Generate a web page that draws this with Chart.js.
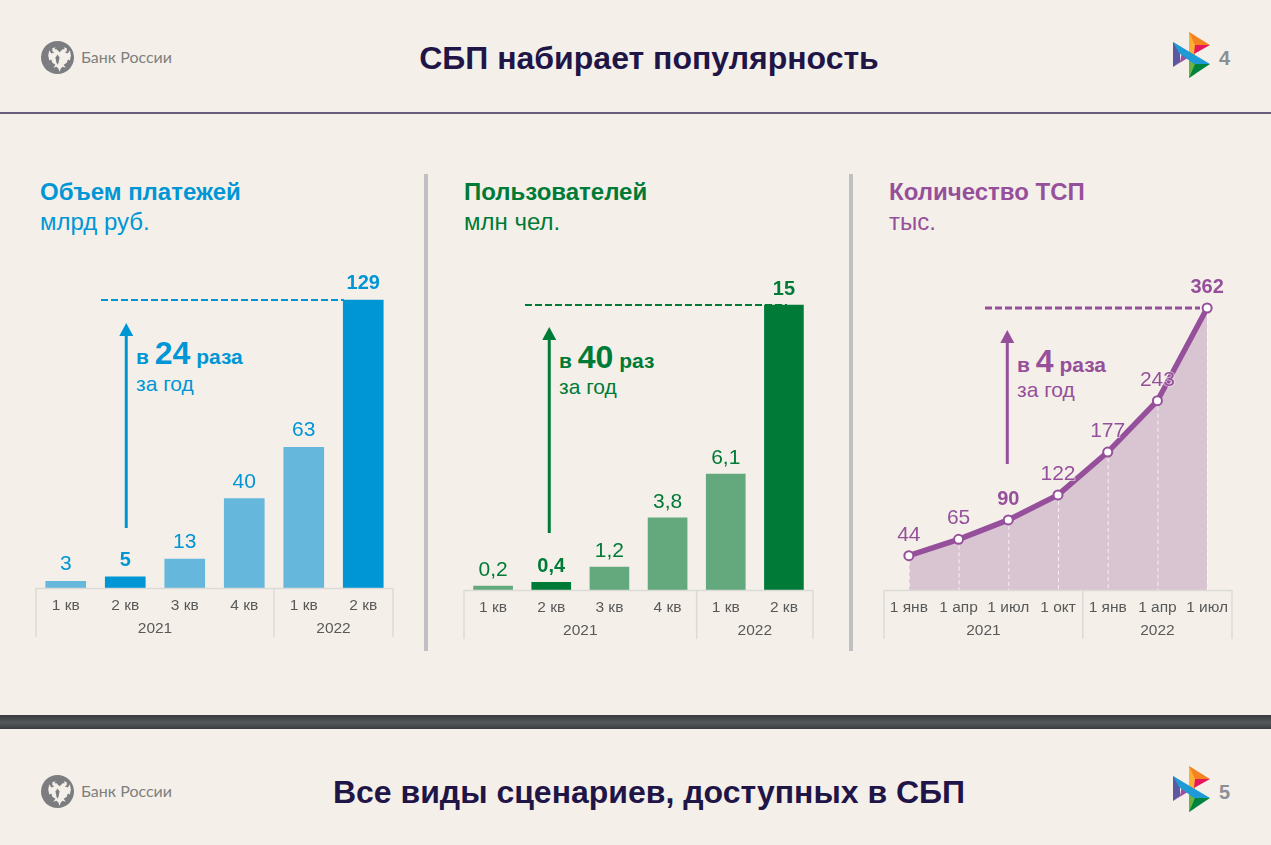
<!DOCTYPE html>
<html lang="ru">
<head>
<meta charset="utf-8">
<title>СБП набирает популярность</title>
<script src="https://cdn.jsdelivr.net/npm/chart.js@4"></script>
<style>
  html, body { margin: 0; padding: 0; background: #f4f0e9; }
  body { position: relative; width: 1271px; height: 845px; overflow: hidden; font-family: "Liberation Sans", Arial, sans-serif; }
  canvas { position: absolute; }
  .txt { position: absolute; white-space: nowrap; line-height: 1; }
  .title { left: 0; text-align: center; font-weight: bold; color: #1f1547; font-size: 32px; }
  .head { font-size: 24px; }
  .b { font-weight: bold; }
  .call { font-size: 21px; }
  .call big { font-size: 32px; font-weight: bold; }
  .bank { font-family: Lato, sans-serif; font-size: 16px; color: #7f7f7f; }
  .page { font-weight: bold; font-size: 20px; color: #8a8f94; }
  .rule { position: absolute; }
  svg { position: absolute; }
</style>
</head>
<body>

<!-- slide furniture -->
<div class="rule" style="left:0;top:112px;width:1271px;height:2px;background:#6a5d7b"></div>
<div class="rule" style="left:424px;top:174px;width:4px;height:477px;background:#bfbfc4"></div>
<div class="rule" style="left:849px;top:174px;width:4px;height:477px;background:#bfbfc4"></div>
<div class="rule" style="left:0;top:715px;width:1271px;height:14px;background:linear-gradient(#37393c,#55585b 55%,#3a3c3f)"></div>

<div class="txt title" style="top:42px;width:1298px">СБП набирает популярность</div>
<div class="txt title" style="top:776px;width:1298px">Все виды сценариев, доступных в СБП</div>

<div class="txt bank" style="left:81px;top:49px">Банк России</div>
<div class="txt bank" style="left:81px;top:783px">Банк России</div>
<div class="txt page" style="left:1219px;top:48px">4</div>
<div class="txt page" style="left:1219px;top:782px">5</div>

<div class="txt head b" style="left:40px;top:180px;color:#0096d6">Объем платежей</div>
<div class="txt head" style="left:40px;top:210px;color:#0096d6">млрд руб.</div>
<div class="txt head b" style="left:464px;top:180px;color:#007a37">Пользователей</div>
<div class="txt head" style="left:464px;top:210px;color:#007a37">млн чел.</div>
<div class="txt head b" style="left:889px;top:180px;color:#964f9b">Количество ТСП</div>
<div class="txt head" style="left:889px;top:210px;color:#964f9b">тыс.</div>

<div class="txt call b" style="left:136px;top:337px;color:#0096d6">в <big>24</big> раза</div>
<div class="txt call" style="left:136px;top:373px;color:#0096d6">за год</div>
<div class="txt call b" style="left:559px;top:341px;color:#007a37">в <big>40</big> раз</div>
<div class="txt call" style="left:559px;top:376px;color:#007a37">за год</div>
<div class="txt call b" style="left:1017px;top:345px;color:#964f9b">в <big>4</big> раза</div>
<div class="txt call" style="left:1017px;top:379px;color:#964f9b">за год</div>

<canvas id="payments-chart" width="361" height="380" style="left:34px;top:260px"></canvas>
<canvas id="users-chart" width="353" height="382" style="left:462px;top:260px"></canvas>
<canvas id="merchants-chart" width="352" height="382" style="left:882px;top:260px"></canvas>

<script>
// === Data ===
const quarters = ["1 кв", "2 кв", "3 кв", "4 кв", "1 кв", "2 кв"];
const dates = ["1 янв", "1 апр", "1 июл", "1 окт", "1 янв", "1 апр", "1 июл"];
const years = ["2021", "2022"];

const payments = [3, 5, 13, 40, 63, 129];
const paymentLabels = ["3", "5", "13", "40", "63", "129"];

const users = [0.2, 0.4, 1.2, 3.8, 6.1, 15];
const userLabels = ["0,2", "0,4", "1,2", "3,8", "6,1", "15"];

const merchants = [44, 65, 90, 122, 177, 243, 362];
const merchantLabels = ["44", "65", "90", "122", "177", "243", "362"];

const FRAME = "#dcdad6";
const TICK = "#595959";
const FONT = '"Liberation Sans", Arial, sans-serif';

// table-like axis frame with the year row under the ticks
function drawFrame(chart, ctx) {
  const { left, right, bottom } = chart.chartArea;
  const x = chart.scales.x;
  const split = (x.getPixelForValue(3) + x.getPixelForValue(4)) / 2;
  ctx.strokeStyle = FRAME;
  ctx.lineWidth = 1.5;
  ctx.beginPath();
  ctx.moveTo(left, bottom + 0.5);
  ctx.lineTo(right, bottom + 0.5);
  [left, split, right].forEach(px => {
    ctx.moveTo(px, bottom);
    ctx.lineTo(px, bottom + 49);
  });
  ctx.stroke();

  ctx.fillStyle = TICK;
  ctx.font = "15.5px " + FONT;
  ctx.textAlign = "center";
  ctx.textBaseline = "alphabetic";
  ctx.fillText(years[0], (left + split) / 2, bottom + 45);
  ctx.fillText(years[1], (split + right) / 2, bottom + 45);
}

function drawArrow(ctx, px, top, bottom, color) {
  ctx.strokeStyle = color;
  ctx.fillStyle = color;
  ctx.lineWidth = 3;
  ctx.setLineDash([]);
  ctx.beginPath();
  ctx.moveTo(px, bottom);
  ctx.lineTo(px, top + 10);
  ctx.stroke();
  ctx.beginPath();
  ctx.moveTo(px, top);
  ctx.lineTo(px + 7, top + 13);
  ctx.lineTo(px - 7, top + 13);
  ctx.closePath();
  ctx.fill();
}

function drawDash(ctx, from, to, y, color, width) {
  ctx.strokeStyle = color;
  ctx.lineWidth = width;
  ctx.setLineDash([7, 3]);
  ctx.beginPath();
  ctx.moveTo(from, y);
  ctx.lineTo(to, y);
  ctx.stroke();
  ctx.setLineDash([]);
}

function overlay(cfg) {
  return {
    id: "overlay",
    afterDraw(chart) {
      const ctx = chart.ctx;
      const meta = chart.getDatasetMeta(0).data;
      const canvasLeft = chart.canvas.offsetLeft;
      const canvasTop = chart.canvas.offsetTop;
      ctx.save();
      drawFrame(chart, ctx);

      const peak = meta[meta.length - 1];
      drawDash(ctx, cfg.dashFrom - canvasLeft, cfg.dashTo - canvasLeft, peak.y, cfg.color, cfg.dashWidth);
      drawArrow(ctx, chart.scales.x.getPixelForValue(cfg.arrowAt) + cfg.arrowNudge, cfg.arrowTop - canvasTop, cfg.arrowBottom - canvasTop, cfg.color);

      if (cfg.dropLines) {
        ctx.strokeStyle = "rgba(255,255,255,0.75)";
        ctx.lineWidth = 1;
        ctx.setLineDash([4, 3]);
        meta.forEach(p => {
          ctx.beginPath();
          ctx.moveTo(p.x + 0.5, p.y + 6);
          ctx.lineTo(p.x + 0.5, chart.chartArea.bottom);
          ctx.stroke();
        });
        ctx.setLineDash([]);
      }

      ctx.textAlign = "center";
      ctx.textBaseline = "alphabetic";
      meta.forEach((p, i) => {
        const strong = cfg.strong.includes(i);
        ctx.font = strong ? "bold 20px " + FONT : "21px " + FONT;
        if (cfg.dropLines) {
          ctx.strokeStyle = "rgba(244,240,233,0.6)";
          ctx.lineWidth = 2;
          ctx.strokeText(cfg.labels[i], p.x, p.y - cfg.gap);
        }
        ctx.fillStyle = cfg.color;
        ctx.fillText(cfg.labels[i], p.x, p.y - cfg.gap);
      });
      ctx.restore();
    }
  };
}

function xAxis(offset) {
  return {
    offset,
    afterFit(scale) { scale.height = 50; },
    grid: { display: false },
    border: { display: false },
    ticks: { color: TICK, font: { family: FONT, size: 15.5 }, padding: 0, maxRotation: 0, minRotation: 0, autoSkip: false }
  };
}

function baseOptions(yMax) {
  return {
    responsive: false,
    animation: false,
    layout: { autoPadding: false, padding: { left: 2, right: 2, top: 0, bottom: 2 } },
    plugins: { legend: { display: false }, tooltip: { enabled: false } },
    scales: {
      x: xAxis(true),
      y: { display: false, min: 0, max: yMax }
    }
  };
}

// === 1. Payment volume ===
new Chart(document.getElementById("payments-chart"), {
  type: "bar",
  data: {
    labels: quarters,
    datasets: [{
      data: payments,
      barThickness: 40,
      backgroundColor: ["#65b7dc", "#0096d6", "#65b7dc", "#65b7dc", "#65b7dc", "#0096d6"]
    }]
  },
  options: baseOptions(146.9),
  plugins: [overlay({
    labels: paymentLabels, strong: [1, 5], color: "#0096d6", gap: 11, dashWidth: 2,
    dashFrom: 101, dashTo: 344, arrowAt: 1, arrowNudge: 1, arrowTop: 323, arrowBottom: 528
  })]
});

// === 2. Users ===
new Chart(document.getElementById("users-chart"), {
  type: "bar",
  data: {
    labels: quarters,
    datasets: [{
      data: users,
      barThickness: 39,
      backgroundColor: ["#63a97d", "#007a37", "#63a97d", "#63a97d", "#63a97d", "#007a37"]
    }]
  },
  options: baseOptions(17.37),
  plugins: [overlay({
    labels: userLabels, strong: [1, 5], color: "#007a37", gap: 10, dashWidth: 2,
    dashFrom: 525, dashTo: 787, arrowAt: 1, arrowNudge: -2, arrowTop: 327, arrowBottom: 533
  })]
});

// === 3. Merchants ===
new Chart(document.getElementById("merchants-chart"), {
  type: "line",
  data: {
    labels: dates,
    datasets: [{
      data: merchants,
      tension: 0,
      fill: "origin",
      backgroundColor: "#d9c4d2",
      borderColor: "#964f9b",
      borderWidth: 5.5,
      pointRadius: 4.5,
      pointBorderWidth: 2,
      pointBackgroundColor: "#ffffff",
      pointBorderColor: "#964f9b"
    }]
  },
  options: baseOptions(423.6),
  plugins: [overlay({
    labels: merchantLabels, strong: [2, 6], color: "#964f9b", gap: 15, dropLines: true, dashWidth: 3,
    dashFrom: 985, dashTo: 1200, arrowAt: 2, arrowNudge: -1, arrowTop: 330, arrowBottom: 464
  })]
});

// === Logos ===
const BANK_MARK = `<circle cx="16" cy="16" r="16" fill="#7b7d80"/>
  <path d="M16 9 l2 2 3-3 2 0 -1-2 3 1 0 3 -2 1 3 1 2-3 1 5 -1 5 -2-1 -1 3 -3 2 2 3 -3-1 -2 2 -1 3 -1-3 -2-2 -3 1 2-3 -3-2 -1-3 -2 1 -1-5 1-5 2 3 3-1 -2-1 0-3 3-1 -1 2 2 0 3 3z" fill="#f4f0e9"/>
  <path d="M16 13 l2 3 -1 5 -1 2 -1-2 -1-5z" fill="#7b7d80"/>`;

const SBP_MARK = `<polygon points="23,22 23,47 30,42 30,27" fill="#5b57a2"/>
  <polygon points="23,47 41,36 32,31 30,42" fill="#9a4fa0"/>
  <polygon points="39,12 39,35 45,38 45,16" fill="#fbb034"/>
  <polygon points="39,12 60,25 45,25" fill="#f58220"/>
  <polygon points="44,34 60,25 45,25" fill="#e6175b"/>
  <polygon points="39,58 39,37 45,40 45,54" fill="#6cb33f"/>
  <polygon points="39,58 60,44 45,44" fill="#00843d"/>
  <polygon points="23,22 60,44 44,44 29,33" fill="#1e9ad6"/>`;

function addMark(markup, viewBox, left, top, w, h) {
  const svg = document.createElementNS("http://www.w3.org/2000/svg", "svg");
  svg.setAttribute("viewBox", viewBox);
  svg.setAttribute("width", w);
  svg.setAttribute("height", h);
  svg.style.left = left + "px";
  svg.style.top = top + "px";
  svg.innerHTML = markup;
  document.body.appendChild(svg);
}

addMark(BANK_MARK, "0 0 32 32", 41, 41, 33, 33);
addMark(BANK_MARK, "0 0 32 32", 41, 775, 33, 33);
addMark(SBP_MARK, "0 0 100 70", 1150, 20, 100, 70);
addMark(SBP_MARK, "0 0 100 70", 1150, 754, 100, 70);
</script>
</body>
</html>
